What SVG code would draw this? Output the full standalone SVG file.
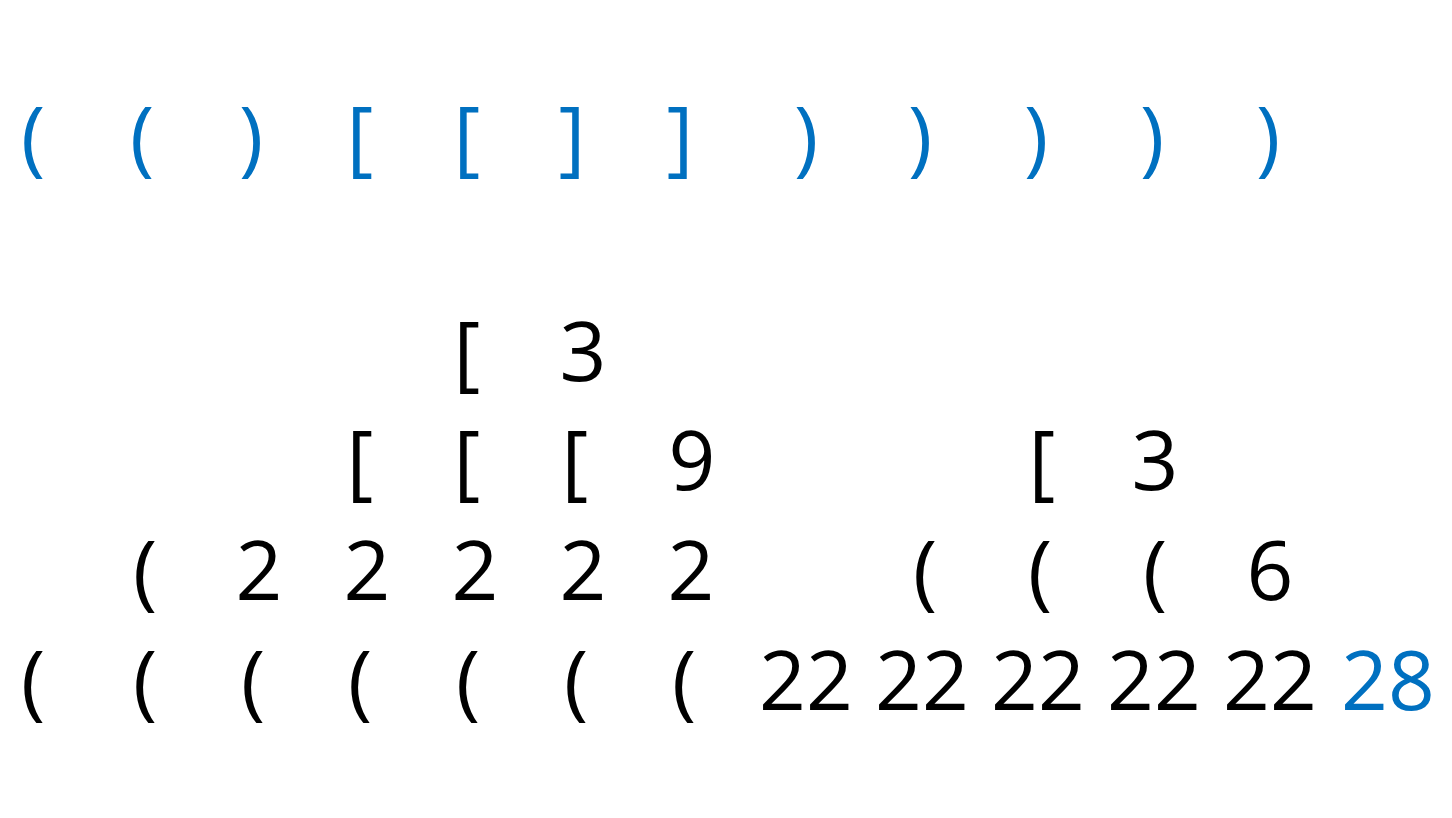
<svg xmlns="http://www.w3.org/2000/svg" width="1452" height="818" viewBox="0 0 1452 818">
<style>
text{font-family:"Open Sans","Noto Sans",sans-serif;font-size:82px;text-anchor:middle}
.b{fill:#0070C0}
.k{fill:#000}
</style>
<rect width="1452" height="818" fill="#fff"/>
<g id="input" class="b">
<text x="33" y="166">(</text>
<text x="142" y="166">(</text>
<text x="251" y="166">)</text>
<text x="360" y="166">[</text>
<text x="467" y="166">[</text>
<text x="572" y="166">]</text>
<text x="680" y="166">]</text>
<text x="806" y="166">)</text>
<text x="920" y="166">)</text>
<text x="1036" y="166">)</text>
<text x="1152" y="166">)</text>
<text x="1268" y="166">)</text>
</g>
<g id="row1" class="k">
<text x="467" y="381">[</text>
<text x="583" y="381">3</text>
</g>
<g id="row2" class="k">
<text x="360" y="490">[</text>
<text x="467" y="490">[</text>
<text x="575" y="490">[</text>
<text x="692" y="490">9</text>
<text x="1042" y="490">[</text>
<text x="1155" y="490">3</text>
</g>
<g id="row3" class="k">
<text x="145" y="600">(</text>
<text x="259" y="600">2</text>
<text x="367" y="600">2</text>
<text x="475" y="600">2</text>
<text x="583" y="600">2</text>
<text x="691" y="600">2</text>
<text x="925" y="600">(</text>
<text x="1040" y="600">(</text>
<text x="1155" y="600">(</text>
<text x="1270" y="600">6</text>
</g>
<g id="row4" class="k">
<text x="33" y="710">(</text>
<text x="145" y="710">(</text>
<text x="253" y="710">(</text>
<text x="360" y="710">(</text>
<text x="468" y="710">(</text>
<text x="576" y="710">(</text>
<text x="684" y="710">(</text>
<text x="806" y="710">22</text>
<text x="922" y="710">22</text>
<text x="1038" y="710">22</text>
<text x="1154" y="710">22</text>
<text x="1270" y="710">22</text>
<text class="b" x="1388" y="710">28</text>
</g>
</svg>
